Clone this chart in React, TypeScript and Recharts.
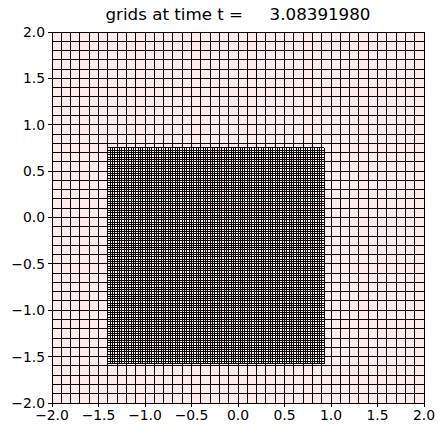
import { ComposedChart, XAxis, YAxis, CartesianGrid, ReferenceLine } from "recharts";

// AMR grid levels: bounds and number of cells per side
const levelXRange = [
  [-2, 2],
  [-1.4, 0.925],
];
const levelYRange = [
  [-2, 2],
  [-1.575, 0.75],
];
const levelCells = [40, 93];
const axisTicks = [-2, -1.5, -1, -0.5, 0, 0.5, 1, 1.5, 2];
const timeValue = "3.08391980";

const W = 443;
const H = 435;
const font = "DejaVu Sans, sans-serif";

const fmt = (v: number) => v.toFixed(1).replace("-", "\u2212");

function edges(lo: number, hi: number, n: number) {
  const out: number[] = [];
  for (let i = 0; i <= n; i++) out.push(lo + ((hi - lo) * i) / n);
  return out;
}

export default function App() {
  const lines: JSX.Element[] = [];
  levelCells.forEach((n, lev) => {
    const [x0, x1] = levelXRange[lev];
    const [y0, y1] = levelYRange[lev];
    edges(x0, x1, n).forEach((x, i) =>
      lines.push(
        <ReferenceLine
          key={`v${lev}-${i}`}
          segment={[{ x, y: y0 }, { x, y: y1 }]}
          stroke="#000"
          strokeWidth={1}
          ifOverflow="visible"
        />
      )
    );
    edges(y0, y1, n).forEach((y, i) =>
      lines.push(
        <ReferenceLine
          key={`h${lev}-${i}`}
          segment={[{ x: x0, y }, { x: x1, y }]}
          stroke="#000"
          strokeWidth={1}
          ifOverflow="visible"
        />
      )
    );
  });

  return (
    <div style={{ position: "absolute", left: 0, top: 0, width: W, height: H, background: "#fff", shapeRendering: "crispEdges" }}>
      <div
        style={{
          position: "absolute",
          left: 52,
          width: 372,
          top: 4,
          textAlign: "center",
          fontFamily: font,
          fontSize: 16.7,
          whiteSpace: "pre",
          color: "#000",
        }}
      >
        {`grids at time t =     ${timeValue}`}
      </div>
      <ComposedChart width={W} height={H} margin={{ top: 32, right: 19, bottom: 2, left: 12 }}>
        <CartesianGrid fill="#ffeaea" horizontal={false} vertical={false} />
        <XAxis
          type="number"
          dataKey="x"
          domain={[-2, 2]}
          ticks={axisTicks}
          tickFormatter={fmt}
          height={30}
          tickSize={4}
          tickMargin={3}
          axisLine={{ stroke: "#000" }}
          tickLine={{ stroke: "#000" }}
          tick={{ fill: "#000", fontSize: 13.9, fontFamily: font }}
          allowDataOverflow
          interval={0}
        />
        <YAxis
          type="number"
          dataKey="y"
          domain={[-2, 2]}
          ticks={axisTicks}
          tickFormatter={fmt}
          width={40}
          tickSize={4}
          tickMargin={3}
          axisLine={{ stroke: "#000" }}
          tickLine={{ stroke: "#000" }}
          tick={{ fill: "#000", fontSize: 13.9, fontFamily: font }}
          allowDataOverflow
          interval={0}
        />
        {lines}
      </ComposedChart>
    </div>
  );
}
